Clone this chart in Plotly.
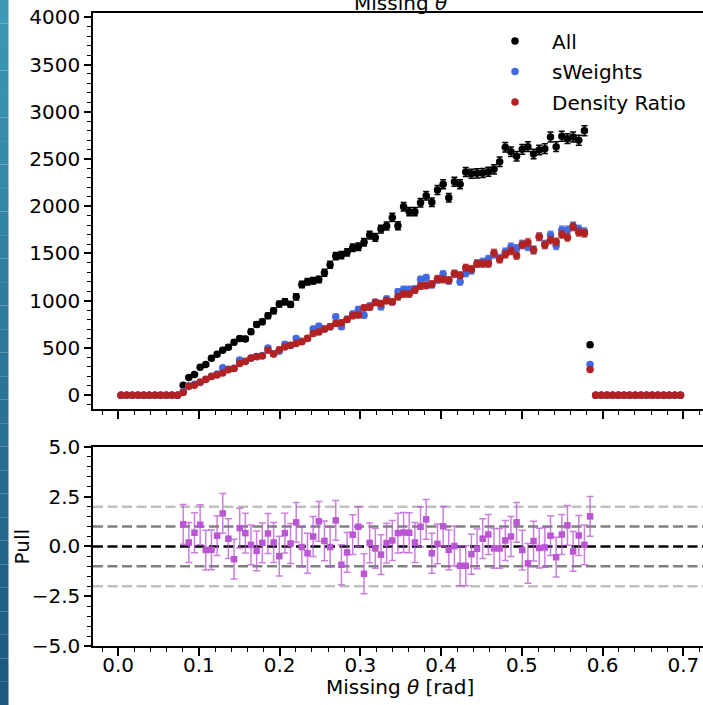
import numpy as np
import plotly.graph_objects as go

# ---- data -------------------------------------------------------------
bin_edges = np.linspace(0.0, 0.7, 101)
bin_centers = 0.5 * (bin_edges[:-1] + bin_edges[1:])

all_counts = [0] * 11 + [
    106, 187, 219, 296, 325, 392, 434, 477, 508, 561,
    600, 596, 671, 749, 777, 840, 893, 964, 989, 961,
    1041, 1172, 1200, 1211, 1225, 1296, 1380, 1472, 1483, 1511,
    1560, 1571, 1618, 1695, 1670, 1758, 1790, 1882, 1793, 1995,
    1942, 1942, 2037, 2111, 2041, 2172, 2232, 2090, 2260, 2232,
    2362, 2344, 2348, 2352, 2365, 2391, 2471, 2624, 2577, 2528,
    2602, 2630, 2553, 2595, 2609, 2733, 2630, 2740, 2715, 2733,
    2698, 2800, 533] + [0] * 16

sweights = [0] * 11 + [
    40, 100, 115, 135, 170, 200, 225, 290, 275, 285,
    372, 360, 390, 410, 420, 500, 440, 466, 540, 525,
    600, 570, 600, 700, 731, 700, 725, 829, 724, 805,
    860, 908, 847, 945, 985, 935, 1017, 990, 1094, 1120,
    1120, 1125, 1225, 1243, 1170, 1220, 1282, 1210, 1282, 1200,
    1290, 1320, 1395, 1412, 1441, 1490, 1450, 1518, 1571, 1554,
    1600, 1571, 1536, 1677, 1600, 1695, 1582, 1748, 1748, 1790,
    1758, 1730, 325] + [0] * 16

density_ratio = [0] * 11 + [
    28, 93, 106, 141, 166, 198, 215, 235, 270, 283,
    335, 356, 394, 408, 416, 477, 436, 482, 510, 528,
    547, 565, 603, 653, 669, 700, 725, 759, 766, 800,
    840, 850, 925, 930, 980, 971, 999, 988, 1041, 1070,
    1070, 1112, 1155, 1162, 1176, 1232, 1225, 1218, 1289, 1270,
    1350, 1335, 1391, 1391, 1391, 1507, 1437, 1490, 1525, 1476,
    1589, 1617, 1536, 1677, 1589, 1642, 1624, 1702, 1670, 1783,
    1723, 1713, 272] + [0] * 16

pull_first_bin = 11
pull_values = [
    1.11, 0.20, 0.69, 1.09, -0.18, -0.17, 0.54, 1.66, 0.39, -0.64,
    0.92, 0.67, 0.08, -0.22, 0.18, 0.65, 0.20, -0.49, 0.67, 0.15,
    1.21, -0.03, -0.34, 0.50, 1.26, 0.28, -0.03, 1.31, -0.92, -0.30,
    0.59, 0.99, -1.37, 0.18, -0.10, -0.41, 0.17, 0.30, 0.67, 0.70,
    0.69, 0.20, 0.99, 1.36, -0.34, 0.13, 1.01, -0.17, 0.02, -0.97,
    -0.97, -0.39, -0.12, 0.39, 0.60, -0.10, -0.10, 0.30, 0.50, 1.21,
    -0.18, -0.85, 0.27, -0.08, -0.05, 0.54, -0.54, 0.60, 1.06, -0.25,
    0.55, 0.08, 1.51]
pull_errors = [1.0] * len(pull_values)

pull_ref_lines = [(0, "#000000"), (1, "#808080"), (-1, "#808080"),
                  (2, "#c0c0c0"), (-2, "#c0c0c0")]

top_yticks = [0, 500, 1000, 1500, 2000, 2500, 3000, 3500, 4000]
pull_yticks = [-5.0, -2.5, 0.0, 2.5, 5.0]
pull_yticktext = ["\u22125.0", "\u22122.5", "0.0", "2.5", "5.0"]
xticks = [0.0, 0.1, 0.2, 0.3, 0.4, 0.5, 0.6, 0.7]

# ---- figure -----------------------------------------------------------
FONT = "DejaVu Sans"
W, H = 703, 705
L, R, T, B = 93, 0, 13, 59.3
plot_h = H - T - B
plot_w = W - L - R

def frac(py):
    return (H - B - py) / plot_h

def xfrac(px):
    return (px - L) / plot_w

pull_x = bin_centers[pull_first_bin:pull_first_bin + len(pull_values)]

fig = go.Figure()

def add_series(vals, name, color, ecolor):
    v = np.array(vals, dtype=float)
    fig.add_trace(go.Scatter(
        x=bin_centers, y=v, mode="markers", name=name,
        marker=dict(color=color, size=7.5, symbol="circle"),
        error_y=dict(type="data", array=np.sqrt(v), color=ecolor,
                     thickness=1.5, width=3),
        xaxis="x", yaxis="y", legendgroup=name))

add_series(all_counts, "All", "#000000", "#000000")
add_series(sweights, "sWeights", "#4169e1", "rgba(65,105,225,0.7)")
add_series(density_ratio, "Density Ratio", "#b22222", "rgba(178,34,34,0.6)")

fig.add_trace(go.Scatter(
    x=pull_x, y=pull_values, mode="markers", showlegend=False,
    marker=dict(color="#ba55d3", size=6.5, symbol="square"),
    error_y=dict(type="data", array=pull_errors,
                 color="rgba(186,85,211,0.75)", thickness=1.5, width=3.5),
    xaxis="x2", yaxis="y2"))

shapes = []
for val, col in pull_ref_lines:
    shapes.append(dict(type="line", xref="x2 domain", yref="y2",
                       x0=0, x1=1, y0=val, y1=val, layer="below",
                       line=dict(color=col, width=2.5, dash="10px,4.5px")))

# left decorative strip (gradient approximated by bands)
n_strip = 30
c_top = np.array([60, 152, 182])
c_bot = np.array([28, 88, 128])
y_top_f, y_bot_f = frac(0), frac(H)
for k in range(n_strip):
    t = k / (n_strip - 1)
    c = (c_top * (1 - t) + c_bot * t).astype(int)
    y0 = y_top_f + (y_bot_f - y_top_f) * k / n_strip
    y1 = y_top_f + (y_bot_f - y_top_f) * (k + 1) / n_strip
    shapes.append(dict(type="rect", xref="paper", yref="paper",
                       x0=xfrac(0), x1=xfrac(8.5),
                       y0=y0, y1=y1, line=dict(width=0),
                       fillcolor=f"rgb({c[0]},{c[1]},{c[2]})"))

axis_common = dict(
    showgrid=False, zeroline=False, linecolor="#000000", linewidth=1.5,
    ticks="outside", tickcolor="#000000", tickwidth=1.5,
    tickfont=dict(family=FONT, size=20, color="#000000"),
)

x_range = [-0.0312, (W - R - 117.7) / 808.0]

fig.update_layout(
    width=W, height=H,
    margin=dict(l=L, r=R, t=T, b=B, pad=0),
    paper_bgcolor="#ffffff", plot_bgcolor="#ffffff",
    font=dict(family=FONT, size=20, color="#000000"),
    showlegend=True,
    legend=dict(x=xfrac(478), y=frac(21.5), xanchor="left",
                yanchor="top", bgcolor="rgba(0,0,0,0)", borderwidth=0,
                itemwidth=64, tracegroupgap=1.5,
                font=dict(family=FONT, size=20, color="#000000")),
    xaxis=dict(domain=[0, 1], anchor="y", range=x_range, matches="x2",
               showticklabels=False, mirror=True, tickvals=xticks,
               ticklen=8,
               minor=dict(dtick=0.02, tick0=0, ticks="outside", ticklen=4.5,
                          tickwidth=1.2, tickcolor="#000000"),
               **axis_common),
    yaxis=dict(domain=[frac(409), 1], anchor="x", range=[-148, 4045],
               tickvals=top_yticks, ticklen=7,
               minor=dict(dtick=100, tick0=0, ticks="outside", ticklen=4,
                          tickwidth=1.2, tickcolor="#000000"),
               **axis_common),
    xaxis2=dict(domain=[0, 1], anchor="y2", range=x_range, mirror=True,
                tickvals=xticks, ticktext=[f"{v:.1f}" for v in xticks],
                ticklen=8, ticklabelstandoff=-8,
                minor=dict(dtick=0.02, tick0=0, ticks="outside", ticklen=4.5,
                           tickwidth=1.2, tickcolor="#000000"),
                **axis_common),
    yaxis2=dict(domain=[0, frac(446.7)], anchor="x2", range=[-5, 5],
                tickvals=pull_yticks, ticktext=pull_yticktext, ticklen=7,
                minor=dict(dtick=0.5, tick0=0, ticks="outside", ticklen=4,
                           tickwidth=1.2, tickcolor="#000000"),
                **axis_common),
    shapes=shapes,
    annotations=[
        dict(text="Missing <i>\u03b8</i>", xref="paper", yref="paper",
             x=xfrac(400), y=frac(3), xanchor="center", yanchor="middle",
             showarrow=False,
             font=dict(family=FONT, size=20, color="#000000")),
        dict(text="Missing <i>\u03b8</i> [rad]", xref="paper", yref="paper",
             x=xfrac(400), y=frac(687), xanchor="center", yanchor="middle",
             showarrow=False,
             font=dict(family=FONT, size=20, color="#000000")),
        dict(text="Pull", xref="paper", yref="paper",
             x=xfrac(21.7), y=frac(546.5), xanchor="center",
             yanchor="middle", textangle=-90, showarrow=False,
             font=dict(family=FONT, size=20, color="#000000")),
    ],
)

fig.write_html("out.html")
